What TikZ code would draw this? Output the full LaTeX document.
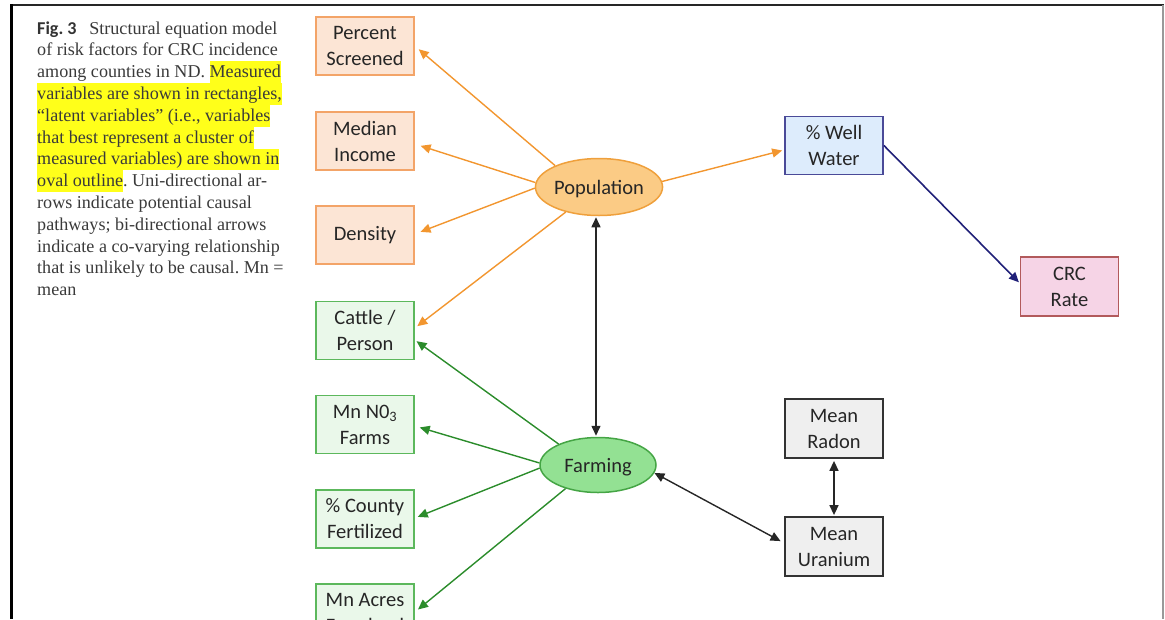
\documentclass[tikz,border=0pt]{standalone}
\usepackage{fontspec}
\setmainfont{Liberation Serif}
\newfontfamily\diagfont{Carlito}
\newfontfamily\figfont{Carlito}
\usetikzlibrary{arrows.meta,shapes.geometric}
\frenchspacing

\definecolor{captext}{HTML}{3A3A3A}
\definecolor{hlyellow}{HTML}{FFFF1A}
\definecolor{nodetext}{HTML}{262626}
\definecolor{orfill}{HTML}{FCE5D5}
\definecolor{ordraw}{HTML}{F3A468}
\definecolor{orline}{HTML}{F2962F}
\definecolor{popfill}{HTML}{FBCB85}
\definecolor{popdraw}{HTML}{EFA03C}
\definecolor{grfill}{HTML}{EAF8EA}
\definecolor{grdraw}{HTML}{5CB85C}
\definecolor{grline}{HTML}{2B8C2B}
\definecolor{farmfill}{HTML}{93E193}
\definecolor{farmdraw}{HTML}{45A545}
\definecolor{blfill}{HTML}{DDECFC}
\definecolor{bldraw}{HTML}{4A4A98}
\definecolor{blline}{HTML}{202078}
\definecolor{pkfill}{HTML}{F6D4E6}
\definecolor{pkdraw}{HTML}{B25A5C}
\definecolor{gyfill}{HTML}{EFEFEF}
\definecolor{gydraw}{HTML}{333333}

% highlighted run of caption text
\newcommand{\hlrun}[1]{{\setlength{\fboxsep}{0pt}\colorbox{hlyellow}{\rule[-5.6pt]{0pt}{21.8pt}#1}}}

\tikzset{
  captionline/.style={anchor=base west, inner sep=0, text=captext,
    font=\fontsize{18.1}{21.8}\selectfont},
  varbox/.style={rectangle, minimum width=98, minimum height=58,
    line width=1.8, inner sep=0, align=center, text=nodetext,
    font=\diagfont\fontsize{20.5}{26}\selectfont},
  latent/.style={ellipse, minimum width=116, minimum height=57,
    line width=1.5, inner sep=0, text=nodetext, text depth=0pt,
    font=\diagfont\fontsize{20.5}{26}\selectfont},
  orbox/.style={varbox, fill=orfill, draw=ordraw},
  grbox/.style={varbox, fill=grfill, draw=grdraw},
  onetip/.style={-{Triangle[length=10,width=9]}},
  bothtips/.style={{Triangle[length=10,width=9]}-{Triangle[length=10,width=9]}},
  orarrow/.style={onetip, orline, line width=1.4},
  grarrow/.style={onetip, grline, line width=1.4},
}

\begin{document}
\begin{tikzpicture}[x=1pt,y=-1pt]
\useasboundingbox (0,0) rectangle (1165,619);
\clip (0,0) rectangle (1165,619);

% frame
\draw[line width=2.5, black!85] (10,5) -- (1164,5);
\draw[line width=3, black] (11,4) -- (11,619);
\draw[line width=1.2, black!40] (1163,5) -- (1163,619);

% caption
\node[captionline] (c1) at (37,34.0) {{\figfont\bfseries\color{black!80}Fig.~3}\hspace{0.7em}Structural equation model};
\node[captionline] (c2) at (37,55.8) {of risk factors for CRC incidence};
\node[captionline] (c3) at (37,77.6) {among counties in ND. \hlrun{Measured}};
\node[captionline] (c4) at (37,99.4) {\hlrun{variables are shown in rectangles,}};
\node[captionline] (c5) at (37,121.2) {\hlrun{“latent variables” (i.e., variables}};
\node[captionline] (c6) at (37,143.0) {\hlrun{that best represent a cluster of}};
\node[captionline] (c7) at (37,164.8) {\hlrun{measured variables) are shown in}};
\node[captionline] (c8) at (37,186.6) {\hlrun{oval outline}. Uni-directional ar-};
\node[captionline] (c9) at (37,208.4) {rows indicate potential causal};
\node[captionline] (c10) at (37,230.2) {pathways; bi-directional arrows};
\node[captionline] (c11) at (37,252.0) {indicate a co-varying relationship};
\node[captionline] (c12) at (37,273.8) {that is unlikely to be causal. Mn =};
\node[captionline] (c13) at (37,295.6) {mean};

% measured variables
\node[orbox] (ps)  at (365,46)    {Percent\\Screened};
\node[orbox] (mi)  at (365,141)   {Median\\Income};
\node[orbox] (den) at (365,235)   {Density};
\node[grbox] (cat) at (365,330.5) {Cattle /\\Person};
\node[grbox] (mn3) at (365,424.5) {Mn N0\textsubscript{3}\\Farms};
\node[grbox] (cf)  at (365,519)   {\% County\\Fertilized};
\node[grbox] (ma)  at (365,613)   {Mn Acres\\Farmland};
\node[varbox, fill=blfill, draw=bldraw] (ww) at (834,145.5) {\% Well\\Water};
\node[varbox, fill=pkfill, draw=pkdraw, minimum height=59] (crc) at (1069.5,286.5) {CRC\\Rate};
\node[varbox, fill=gyfill, draw=gydraw, minimum height=59] (rad) at (834,428.5) {Mean\\Radon};
\node[varbox, fill=gyfill, draw=gydraw, minimum height=59] (ura) at (834,546.5) {Mean\\Uranium};

% latent variables
\node[latent, fill=popfill, draw=popdraw] (pop) at (599,187) {Population};
\node[latent, fill=farmfill, draw=farmdraw, minimum height=55] (farm) at (598,465) {Farming};

% population paths
\draw[orarrow, shorten >=5] (pop.154) -- (ps.east);
\draw[orarrow, shorten >=6] (pop.176) -- ([yshift=-3]mi.east);
\draw[orarrow, shorten >=6] (pop.181) -- ([yshift=1]den.east);
\draw[orarrow, shorten >=3] (pop.217) -- ([yshift=2.5]cat.east);
\draw[orarrow, shorten >=2] (pop.5) -- ([yshift=-4.5]ww.west);

% farming paths
\draw[grarrow, shorten >=2] (farm.152) -- ([yshift=-9.5]cat.east);
\draw[grarrow, shorten >=5] (farm.178) -- ([yshift=-1.5]mn3.east);
\draw[grarrow, shorten >=3] (farm.183) -- ([yshift=1]cf.east);
\draw[grarrow, shorten >=4] (farm.216) -- ([yshift=1]ma.east);

% well water to CRC rate
\draw[onetip, blline, line width=1.6, shorten >=1] (ww.east) -- ([yshift=3.5]crc.west);

% co-varying pairs
\draw[bothtips, black!85, line width=1.5, shorten <=1, shorten >=1] ([xshift=-3]pop.south) -- ([xshift=-2]farm.north);
\draw[bothtips, black!85, line width=1.4, shorten >=4] (farm.352) -- ([yshift=3.5]ura.west);
\draw[bothtips, black!85, line width=1.5, shorten <=2, shorten >=1] (rad.south) -- (ura.north);
\end{tikzpicture}
\end{document}
